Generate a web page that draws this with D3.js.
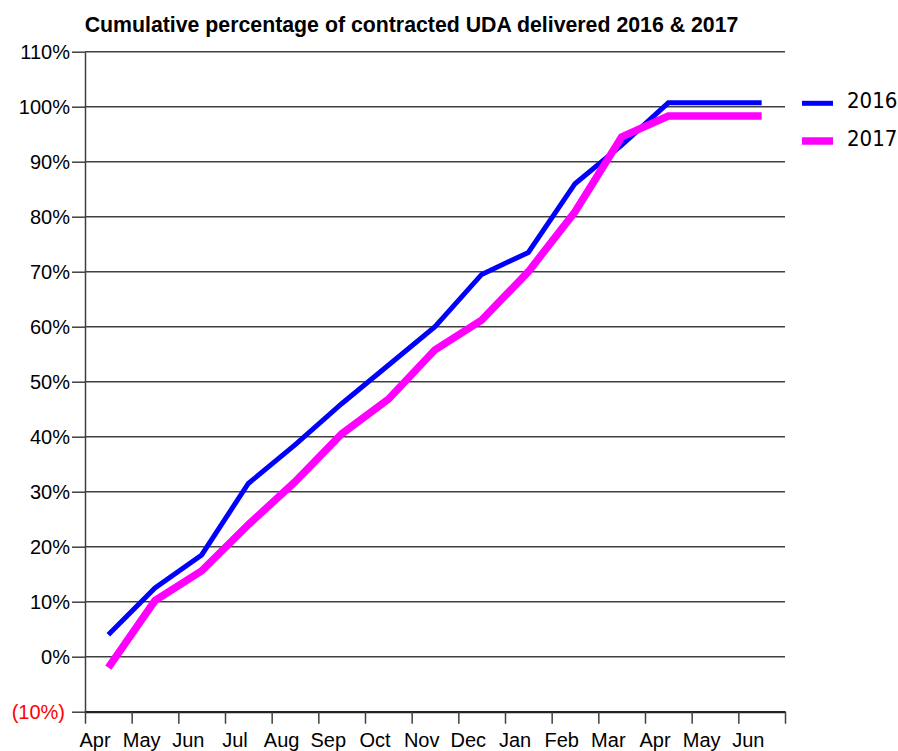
<!DOCTYPE html>
<html><head><meta charset="utf-8">
<script src="https://cdn.jsdelivr.net/npm/d3@7"></script>
<style>
body{margin:0;background:#fff;}
svg{display:block;}
</style></head>
<body>
<svg id="chart" width="898" height="751"></svg>
<script>
const months = ["Apr","May","Jun","Jul","Aug","Sep","Oct","Nov","Dec","Jan","Feb","Mar","Apr","May","Jun"];
const series2016 = [4, 12.5, 18.5, 31.5, 38.5, 46, 53, 60, 69.5, 73.5, 86, 93, 100.7, 100.7, 100.7];
const series2017 = [-2, 10.2, 15.6, 24, 31.8, 40.5, 46.8, 55.8, 61.2, 70, 80.9, 94.5, 98.3, 98.3, 98.3];
const yTicks = [-10, 0, 10, 20, 30, 40, 50, 60, 70, 80, 90, 100, 110];
const seriesNames = ["2016", "2017"];
const seriesColors = ["#0000ff", "#ff00ff"];
const title = "Cumulative percentage of contracted UDA delivered 2016 & 2017";

(function () {
const svg = d3.select("#chart");
const pLeft = 85, pRight = 785, pTop = 51.7, pBottom = 711.7;

const xEdge = d3.scaleLinear().domain([0, months.length]).range([pLeft, pRight]);
const x = i => xEdge(i + 0.5);
const y = d3.scaleLinear().domain([-10, 110]).range([pBottom, pTop]);

// title
svg.append("text").attr("x", 411.5).attr("y", 32).attr("text-anchor", "middle")
  .attr("font-family", "Liberation Sans, Arial, sans-serif").attr("font-weight", "bold")
  .attr("font-size", 21.3).attr("fill", "#000").text(title);

// gridlines
svg.append("g").selectAll("line").data(yTicks.filter(d => d >= 0)).join("line")
  .attr("x1", pLeft).attr("x2", pRight).attr("y1", d => y(d)).attr("y2", d => y(d))
  .attr("stroke", "#404040").attr("stroke-width", 1.5);

// y axis
const yAxis = svg.append("g").attr("transform", `translate(${pLeft},0)`)
  .call(d3.axisLeft(y).tickValues(yTicks).tickSize(13).tickSizeOuter(0)
    .tickFormat(d => d < 0 ? `(${-d}%)` : d + "%"));
yAxis.select(".domain").attr("stroke", "#404040").attr("stroke-width", 1.5);
yAxis.selectAll(".tick line").attr("stroke", "#404040").attr("stroke-width", 1.5);
yAxis.selectAll(".tick text").attr("font-family", "Liberation Sans, Arial, sans-serif")
  .attr("font-size", 20).attr("fill", d => d < 0 ? "#ff0000" : "#000")
  .attr("x", d => d < 0 ? -20 : -15);

// x axis
const xAxis = svg.append("g").attr("transform", `translate(0,${pBottom})`)
  .call(d3.axisBottom(xEdge).tickValues(d3.range(months.length + 1)).tickSize(12).tickSizeOuter(0).tickFormat(""));
xAxis.select(".domain").attr("stroke", "#222").attr("stroke-width", 2.2);
xAxis.selectAll(".tick line").attr("stroke", "#404040").attr("stroke-width", 1.5);

svg.append("g").selectAll("text").data(months).join("text")
  .attr("x", (d, i) => xEdge(i) + 10).attr("y", 746.5).attr("text-anchor", "middle")
  .attr("font-family", "Liberation Sans, Arial, sans-serif").attr("font-size", 20).attr("fill", "#000")
  .text(d => d);

// lines
const line = d3.line().x((d, i) => x(i)).y(d => y(d));
const allSeries = [series2016, series2017];
const widths = [5, 7.5];
svg.append("g").selectAll("path").data(allSeries).join("path")
  .attr("d", d => line(d)).attr("fill", "none")
  .attr("stroke", (d, i) => seriesColors[i]).attr("stroke-width", (d, i) => widths[i])
  .attr("stroke-linejoin", "miter").attr("stroke-linecap", "butt");

// legend
const legendY = [103.3, 141];
const lg = svg.append("g");
seriesNames.forEach((n, i) => {
  lg.append("line").attr("x1", 802).attr("x2", 833).attr("y1", legendY[i]).attr("y2", legendY[i])
    .attr("stroke", seriesColors[i]).attr("stroke-width", widths[i]);
  lg.append("text").attr("x", 847).attr("y", legendY[i] - 1).attr("dominant-baseline", "middle")
    .attr("font-family", "DejaVu Sans Condensed, DejaVu Sans, sans-serif").attr("font-size", 22)
    .attr("fill", "#000").text(n);
});
})();
</script>
</body></html>
